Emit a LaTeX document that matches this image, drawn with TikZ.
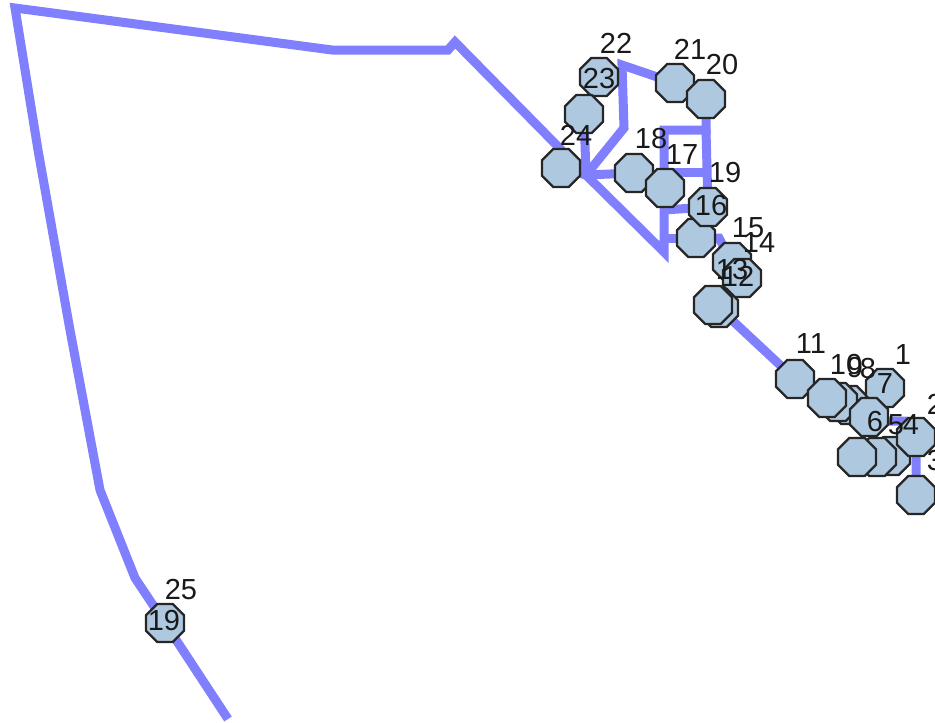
\documentclass[tikz,border=0pt]{standalone}
\usepackage{fontspec}
\setmainfont{Liberation Sans}
\usetikzlibrary{shapes.geometric,backgrounds}
\tikzset{
  site/.style={regular polygon,regular polygon sides=8,draw=black!85,line width=2.2pt,fill=sitefill,minimum size=41pt,inner sep=0pt,outer sep=0pt},
  tag/.style={font=\fontsize{29}{29}\selectfont,text=black!90,inner sep=0pt,outer sep=0pt},
  link/.style={draw=linkblue,line width=9pt,line join=miter}
}
\definecolor{sitefill}{RGB}{174,200,224}
\definecolor{linkblue}{RGB}{128,128,255}
\begin{document}
\begin{tikzpicture}[x=1pt,y=-1pt]
\useasboundingbox (0,0) rectangle (935,723);
\clip (0,0) rectangle (935,723);
% free coordinates
\coordinate (b0) at (228,719);
\coordinate (b1) at (135,578);
\coordinate (b2) at (100,490);
\coordinate (b25) at (70,330);
\coordinate (b3) at (38,150);
\coordinate (b4) at (15,8);
\coordinate (b5) at (332,50);
\coordinate (b6) at (448,50);
\coordinate (b7) at (455,42);
\coordinate (hub) at (586,175);
\coordinate (c1) at (664,252);
\coordinate (c2) at (664,130);
\coordinate (c3) at (706,130);
\coordinate (c4) at (664,172);
\coordinate (c5) at (706,172);
\coordinate (c6) at (664,210);
\coordinate (c7) at (664,238);
\coordinate (c8) at (719,238);
\coordinate (d1) at (624,128);
\coordinate (d2) at (622,65);
\coordinate (e1) at (857,432);
\coordinate (e2) at (905,421);
\coordinate (e3) at (888,421);
% sites
\node[site] (n19) at (165,623) {};
\node[site] (n23) at (599,77) {};
\node[site] (n23b) at (584,114) {};
\node[site] (n24) at (561,168) {};
\node[site] (n18) at (634,173) {};
\node[site] (n17) at (665,188) {};
\node[site] (n15) at (696,238) {};
\node[site] (n16) at (708,207) {};
\node[site] (n21) at (675,83) {};
\node[site] (n20) at (706,99) {};
\node[site] (n13) at (732,262) {};
\node[site] (n12) at (742,278) {};
\node[site] (m2) at (719,308) {};
\node[site] (m1) at (713,305) {};
\node[site] (n11) at (795,379) {};
\node[site] (p3) at (849,405) {};
\node[site] (p2) at (838,402) {};
\node[site] (n10) at (827,398) {};
\node[site] (n7) at (885,388) {};
\node[site] (n6) at (869,417) {};
\node[site] (q3) at (891,456) {};
\node[site] (q2) at (877,457) {};
\node[site] (q1) at (857,457) {};
\node[site] (n4) at (916,437) {};
\node[site] (n3) at (916,495) {};
% connectors
\begin{pgfonlayer}{background}
\draw[link] (b0) -- (n19.center) -- (b1) -- (b2) -- (b25) -- (b3) -- (b4) -- (b5) -- (b6) -- (b7) -- (hub) -- (c1) -- (c2) -- (c3) -- (n20.center);
\draw[link] (c3) -- (n16.center);
\draw[link] (c4) -- (c5);
\draw[link] (c6) -- (n16.center);
\draw[link] (c7) -- (n15.center);
\draw[link] (n15.center) -- (c8) -- (n13.center);
\draw[link] (hub) -- (n18.center);
\draw[link] (hub) -- (n24.center);
\draw[link] (hub) -- (d1) -- (d2) -- (n21.center);
\draw[link] (hub) -- (n23b.center) -- (n23.center);
\draw[link] (m2.center) -- (n11.center);
\draw[link] (n6.center) -- (e1);
\draw[link] (e3) -- (e2) -- (n4.center) -- (n3.center);
\end{pgfonlayer}
% labels
\node[tag] (t22) at (616,43) {22};
\node[tag] (t21) at (690,49) {21};
\node[tag] (t20) at (722,65) {20};
\node[tag] (t23) at (599,79) {23};
\node[tag] (t24) at (576,135) {24};
\node[tag] (t18) at (651,139) {18};
\node[tag] (t17) at (682,155) {17};
\node[tag] (t19) at (725,173) {19};
\node[tag] (t16) at (711,206) {16};
\node[tag] (t15) at (748,228) {15};
\node[tag] (t14) at (759,243) {14};
\node[tag] (t13) at (732,270) {13};
\node[tag] (t12) at (738,276) {12};
\node[tag] (t11) at (811,344) {11};
\node[tag] (t10) at (846,365) {10};
\node[tag] (t9) at (855,368) {9};
\node[tag] (t8) at (868,369) {8};
\node[tag] (t7) at (885,384) {7};
\node[tag] (t1) at (903,355) {1};
\node[tag] (t6) at (875,422) {6};
\node[tag] (t5) at (896,425) {5};
\node[tag] (t4) at (911,425) {4};
\node[tag] (t2) at (935,404) {2};
\node[tag] (t3) at (935,461) {3};
\node[tag] (t25) at (181,590) {25};
\node[tag] (t19b) at (164,621) {19};
\end{tikzpicture}
\end{document}
